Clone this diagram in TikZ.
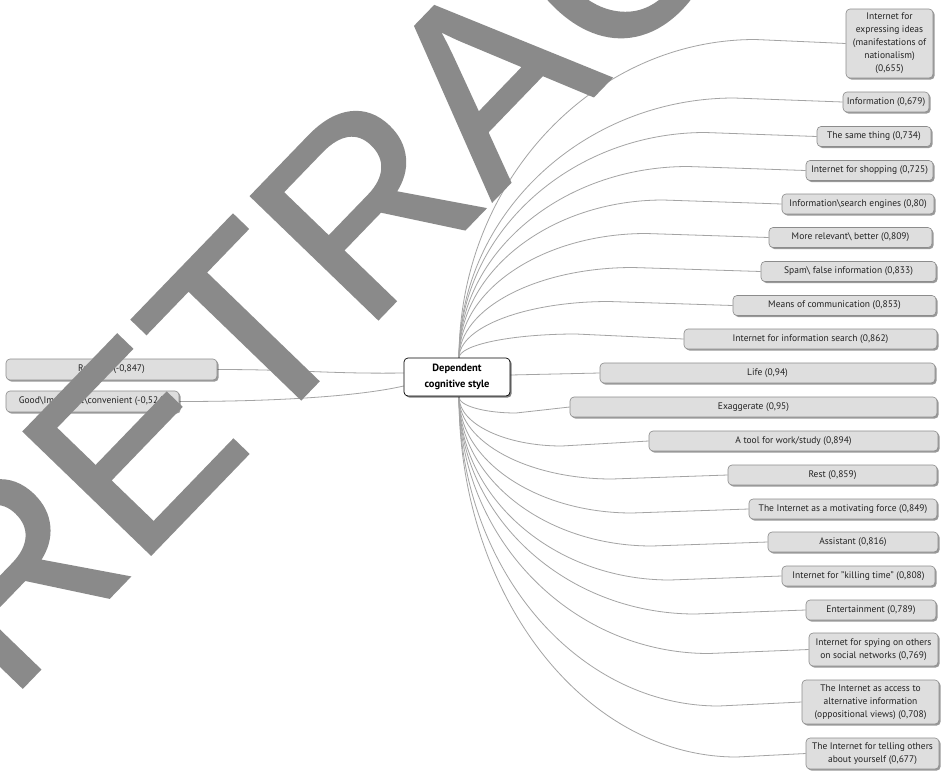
\documentclass[tikz,border=0pt]{standalone}
\usepackage{fontspec}
\setmainfont{PT Sans}
\newfontfamily\wmfont[FakeBold=1.2]{Liberation Sans}
\usetikzlibrary{shadows}
\definecolor{boxfill}{HTML}{DEDEDE}
\definecolor{boxdraw}{HTML}{8C8C8C}
\definecolor{linec}{HTML}{A4A4A4}
\definecolor{txt}{HTML}{222222}
\definecolor{wm}{HTML}{8A8A8A}
\pgfdeclarelayer{bg}
\pgfsetlayers{bg,main}
\tikzset{
 leaf/.style={draw=boxdraw, fill=boxfill, rounded corners=4pt, line width=0.6pt, text=txt,
   font=\fontsize{9.5}{13}\selectfont, align=center, inner sep=0pt, minimum height=20pt,
   drop shadow={shadow xshift=1.6pt, shadow yshift=-1.6pt, fill=black, opacity=0.4}},
 hub/.style={draw=black, fill=white, rounded corners=4pt, line width=0.7pt, text=black,
   font=\bfseries\fontsize{10.5}{16}\selectfont, align=center, inner sep=0pt,
   minimum width=106pt, minimum height=38pt,
   drop shadow={shadow xshift=1.6pt, shadow yshift=-1.6pt, fill=black, opacity=0.5}},
 conn/.style={draw=linec, line width=0.8pt},
}
\newcommand\rconn[5]{%
 \pgfmathsetmacro\xe{459+(0.5+0.3*abs(#5-#3)/360)*(#4-459)}%
 \pgfmathsetmacro\xc{459+0.45*(\xe-459)}%
 \pgfmathsetmacro\yc{#3+0.55*(#5-#3)}%
 \draw[conn] (#1) .. controls (459,\yc) and (\xc,#5) .. (\xe,#5) -- (#2.west);}
\begin{document}
\begin{tikzpicture}[x=1pt,y=-1pt]
\useasboundingbox (0,0) rectangle (941,771);

% hub
\node[hub] (hub) at (457,377) {Dependent\\cognitive style};
\coordinate (ctop) at (459,358);
\coordinate (cbot) at (459,397);

% right leaves
\node[leaf, minimum width=87pt, minimum height=69pt] (n1) at (889.5,43.5) {Internet for\\expressing ideas\\(manifestations of\\nationalism)\\(0,655)};
\node[leaf, minimum width=86pt] (n2) at (886,102) {Information (0,679)};
\node[leaf, minimum width=114pt] (n3) at (874,136.5) {The same thing (0,734)};
\node[leaf, minimum width=127pt] (n4) at (869.5,170.5) {Internet for shopping (0,725)};
\node[leaf, minimum width=152pt] (n5) at (858,204) {Information\textbackslash search engines (0,80)};
\node[leaf, minimum width=163pt] (n6) at (850.5,237.5) {More relevant\textbackslash{} better (0,809)};
\node[leaf, minimum width=175pt] (n7) at (848.5,271.5) {Spam\textbackslash{} false information (0,833)};
\node[leaf, minimum width=203pt] (n8) at (834.5,305.5) {Means of communication (0,853)};
\node[leaf, minimum width=253pt] (n9) at (810.5,339) {Internet for information search (0,862)};
\node[leaf, minimum width=335pt] (n10) at (767.5,373) {Life (0,94)};
\node[leaf, minimum width=367pt] (n11) at (753.5,407) {Exaggerate (0,95)};
\node[leaf, minimum width=289pt] (n12) at (793.5,441) {A tool for work/study (0,894)};
\node[leaf, minimum width=209pt] (n13) at (832.5,475) {Rest (0,859)};
\node[leaf, minimum width=188pt] (n14) at (843,509) {The Internet as a motivating force (0,849)};
\node[leaf, minimum width=170pt] (n15) at (853,542) {Assistant (0,816)};
\node[leaf, minimum width=153pt] (n16) at (858.5,576) {Internet for "killing time" (0,808)};
\node[leaf, minimum width=130pt] (n17) at (871,610) {Entertainment (0,789)};
\node[leaf, minimum width=129pt, minimum height=33pt] (n18) at (873.5,649.5) {Internet for spying on others\\on social networks (0,769)};
\node[leaf, minimum width=137pt, minimum height=44pt] (n19) at (870.5,702) {The Internet as access to\\alternative information\\(oppositional views) (0,708)};
\node[leaf, minimum width=133pt, minimum height=31pt] (n20) at (872.5,753.5) {The Internet for telling others\\about yourself (0,677)};

% left leaves
\node[leaf, minimum width=211pt, minimum height=21pt] (l1) at (111.5,369.5) {Reliable (-0,847)};
\node[leaf, minimum width=173pt, minimum height=21pt] (l2) at (92.5,401.5) {Good\textbackslash Important\textbackslash convenient (-0,524)};

\begin{pgfonlayer}{bg}
\fill[white] (0,0) rectangle (941,771);
% connectors (right, upper)
\rconn{ctop}{n1}{358}{846}{39.5}
\rconn{ctop}{n2}{358}{843}{98}
\rconn{ctop}{n3}{358}{817}{132.5}
\rconn{ctop}{n4}{358}{806}{166.5}
\rconn{ctop}{n5}{358}{782}{200}
\rconn{ctop}{n6}{358}{769}{233.5}
\rconn{ctop}{n7}{358}{761}{267.5}
\rconn{ctop}{n8}{358}{733}{301.5}
\rconn{ctop}{n9}{358}{684}{334}
\draw[conn] ([yshift=2pt]hub.east) -- (n10.west);
% connectors (right, lower)
\rconn{cbot}{n11}{397}{570}{413}
\rconn{cbot}{n12}{397}{649}{446}
\rconn{cbot}{n13}{397}{728}{479}
\rconn{cbot}{n14}{397}{749}{513}
\rconn{cbot}{n15}{397}{768}{546}
\rconn{cbot}{n16}{397}{782}{580}
\rconn{cbot}{n17}{397}{806}{614}
\rconn{cbot}{n18}{397}{809}{653.5}
\rconn{cbot}{n19}{397}{802}{706}
\rconn{cbot}{n20}{397}{806}{757}
% connectors (left)
\draw[conn] (l1.east) .. controls (300,369.5) and (330,374) .. ([yshift=4pt]hub.west);
\draw[conn] (l2.east) .. controls (280,401.5) and (360,396) .. ([yshift=-9pt]hub.west);
\end{pgfonlayer}

% watermark
\begin{scope}
\clip (0,0) rectangle (941,771);
\node[rotate=46, anchor=base west, inner sep=0pt, text=wm,
  font=\wmfont\fontsize{256}{256}\selectfont] (wmk) at (8,702) {RETRACTED};
\end{scope}
\end{tikzpicture}
\end{document}
